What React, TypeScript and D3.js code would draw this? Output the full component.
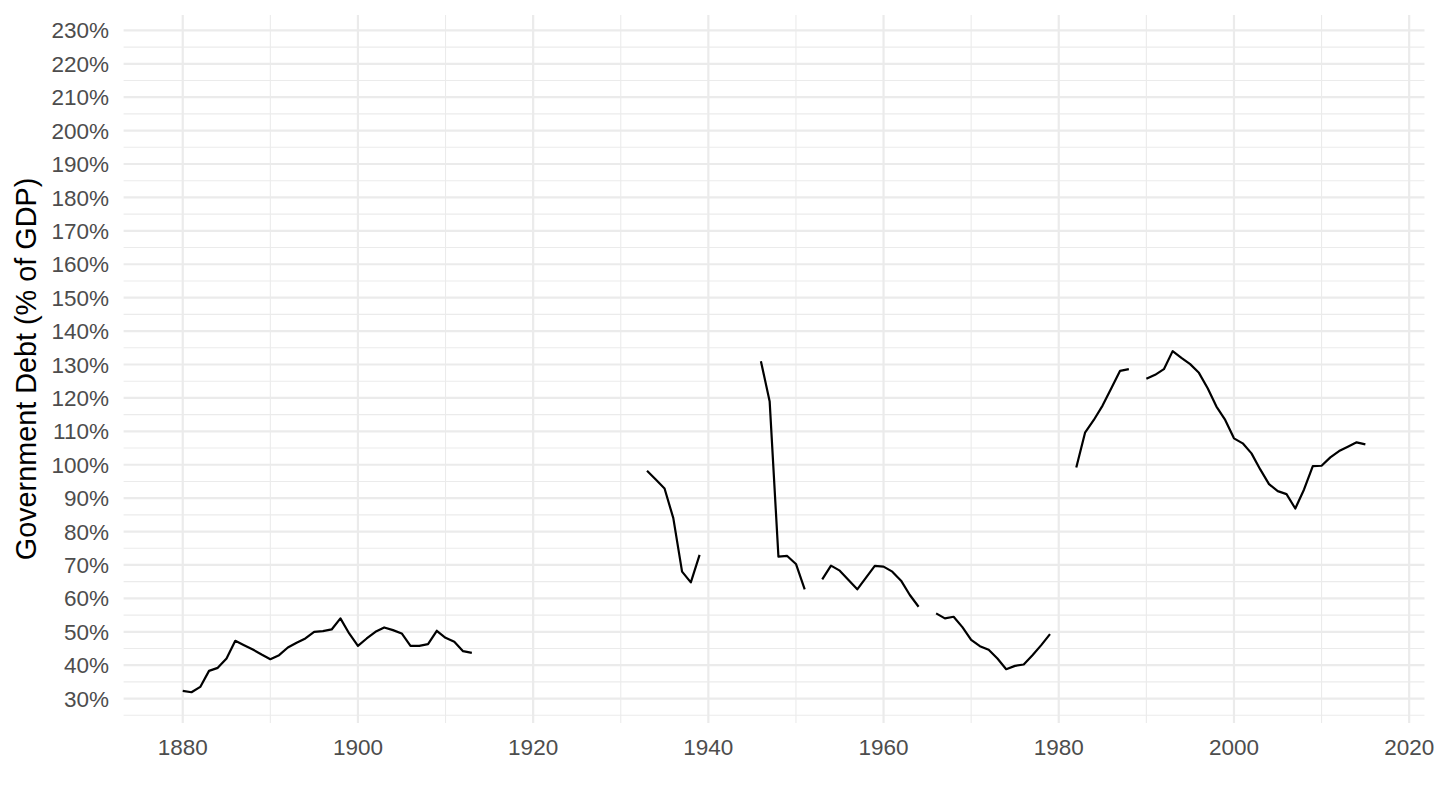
import * as d3 from "d3";

// debt as % of GDP, one array per unbroken run of years
const run1Start = 1880;
const run1 = [32.3, 31.9, 33.5, 38.3, 39.2, 42.0, 47.3, 46.0, 44.7, 43.2, 41.8, 43.0, 45.3, 46.7, 48.0, 50.0, 50.2, 50.7, 54.0, 49.5, 45.8, 48.0, 50.0, 51.3, 50.5, 49.5, 45.8, 45.8, 46.3, 50.3, 48.2, 47.0, 44.2, 43.7];
const run2Start = 1933;
const run2 = [98.2, 95.6, 92.9, 84.0, 68.0, 64.8, 73.0];
const run3Start = 1946;
const run3 = [131.0, 118.9, 72.5, 72.7, 70.3, 62.7];
const run4Start = 1953;
const run4 = [65.7, 69.8, 68.3, 65.5, 62.7, 66.2, 69.7, 69.5, 68.0, 65.3, 61.0, 57.5];
const run5Start = 1966;
const run5 = [55.5, 54.0, 54.5, 51.4, 47.6, 45.7, 44.6, 42.0, 38.8, 39.8, 40.2, 43.0, 46.0, 49.3];
const run6Start = 1982;
const run6 = [99.2, 109.6, 113.4, 117.7, 122.9, 128.1, 128.6];
const run7Start = 1990;
const run7 = [125.7, 126.9, 128.6, 134.0, 132.0, 130.1, 127.5, 122.9, 117.4, 113.4, 107.9, 106.4, 103.4, 98.6, 94.2, 92.1, 91.2, 86.9, 92.6, 99.6, 99.7, 102.2, 104.1, 105.4, 106.7, 106.1];

const yearTicks = [1880, 1900, 1920, 1940, 1960, 1980, 2000, 2020];
const yearMinor = [1890, 1910, 1930, 1950, 1970, 1990, 2010];
const pctTicks = d3.range(30, 231, 10);
const pctMinor = d3.range(25, 226, 10);

const runs: [number, number[]][] = [
  [run1Start, run1],
  [run2Start, run2],
  [run3Start, run3],
  [run4Start, run4],
  [run5Start, run5],
  [run6Start, run6],
  [run7Start, run7]
];

export default function App() {
  const width = 1440;
  const height = 810;
  const left = 123.6;
  const right = 1424.5;
  const top = 15;
  const bottom = 723;

  const x = d3.scaleLinear().domain([1873.25, 2021.75]).range([left, right]);
  const y = d3.scaleLinear().domain([22.7, 234.6]).range([bottom, top]);
  const line = d3
    .line<[number, number]>()
    .x((d) => x(d[0]))
    .y((d) => y(d[1]));

  const font = "'Liberation Sans', Arial, Helvetica, sans-serif";

  return (
    <svg
      width={width}
      height={height}
      viewBox={`0 0 ${width} ${height}`}
      style={{ position: "absolute", left: 0, top: 0, background: "#fff", fontFamily: font }}
    >
      {pctMinor.map((v) => (
        <line key={`ym${v}`} x1={left} x2={right} y1={y(v)} y2={y(v)} stroke="#EBEBEB" strokeWidth={1.1} />
      ))}
      {yearMinor.map((v) => (
        <line key={`xm${v}`} x1={x(v)} x2={x(v)} y1={top} y2={bottom} stroke="#EBEBEB" strokeWidth={1.1} />
      ))}
      {pctTicks.map((v) => (
        <line key={`y${v}`} x1={left} x2={right} y1={y(v)} y2={y(v)} stroke="#EBEBEB" strokeWidth={2.2} />
      ))}
      {yearTicks.map((v) => (
        <line key={`x${v}`} x1={x(v)} x2={x(v)} y1={top} y2={bottom} stroke="#EBEBEB" strokeWidth={2.2} />
      ))}

      {runs.map(([start, vals]) => (
        <path
          key={start}
          d={line(vals.map((v, i) => [start + i, v] as [number, number])) ?? ""}
          fill="none"
          stroke="#000"
          strokeWidth={2.2}
          strokeLinejoin="round"
        />
      ))}

      {pctTicks.map((v) => (
        <text key={`yl${v}`} x={109} y={y(v)} dy="0.36em" textAnchor="end" fontSize={22.5} fill="#4D4D4D">
          {v}%
        </text>
      ))}
      {yearTicks.map((v) => (
        <text key={`xl${v}`} x={x(v)} y={755} textAnchor="middle" fontSize={22.5} fill="#4D4D4D">
          {v}
        </text>
      ))}
      <text
        transform={`translate(36, ${(top + bottom) / 2}) rotate(-90)`}
        textAnchor="middle"
        fontSize={28.8}
        fill="#000"
      >
        Government Debt (% of GDP)
      </text>
    </svg>
  );
}
